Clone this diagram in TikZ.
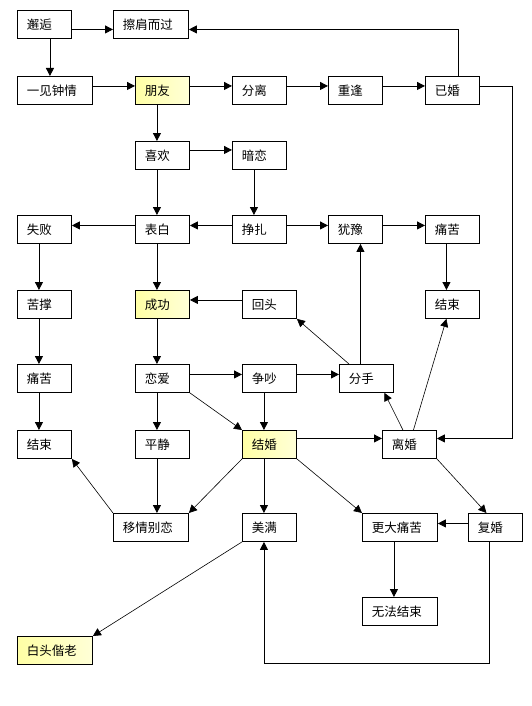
\documentclass[tikz,border=0pt]{standalone}
\usepackage{fontspec}
\setmainfont{Noto Sans CJK SC}
\usetikzlibrary{arrows.meta}
\definecolor{hiyellow}{RGB}{255,255,165}
\definecolor{loyellow}{RGB}{255,255,215}
\tikzset{
  box/.style={draw, line width=0.9pt, fill=white, anchor=north west,
    minimum height=28pt, inner xsep=9.5pt, inner ysep=0pt,
    text width=#1, align=left, font=\fontsize{12.5pt}{14pt}\selectfont},
  box/.default=35pt,
  hi/.style={left color=hiyellow, right color=loyellow},
  arr/.style={-{Triangle[length=8pt,width=8pt]}, line width=0.8pt},
  slant/.style={arr, line width=0.6pt}
}
\begin{document}
\begin{tikzpicture}[x=1pt,y=-1pt]
        \useasboundingbox (0,0) rectangle (532,706);
        % first rows
        \node[box] (xiehou) at (17,10) {邂逅};
        \node[box=56pt] (cajian) at (113,10) {擦肩而过};
        \node[box=56pt] (yijian) at (17,76) {一见钟情};
        \node[box,hi] (pengyou) at (135,76) {朋友};
        \node[box] (fenli) at (232,76) {分离};
        \node[box] (chongfeng) at (328,76) {重逢};
        \node[box] (yihun) at (425,76) {已婚};
        \node[box] (xihuan) at (135,141) {喜欢};
        \node[box] (anlian) at (232,141) {暗恋};
        % middle rows
        \node[box] (shibai) at (17,215) {失败};
        \node[box] (biaobai) at (135,215) {表白};
        \node[box] (zhengzha) at (232,215) {挣扎};
        \node[box] (youyu) at (328,215) {犹豫};
        \node[box] (tongkuR) at (425,215) {痛苦};
        \node[box] (kucheng) at (17,290) {苦撑};
        \node[box,hi] (chenggong) at (135,290) {成功};
        \node[box] (huitou) at (242,290) {回头};
        \node[box] (jieshuR) at (425,290) {结束};
        \node[box] (tongkuL) at (17,364) {痛苦};
        \node[box] (lianai) at (135,364) {恋爱};
        \node[box] (zhengchao) at (242,364) {争吵};
        \node[box] (fenshou) at (339,364) {分手};
        \node[box] (jieshuL) at (17,430) {结束};
        \node[box] (pingjing) at (135,430) {平静};
        \node[box,hi] (jiehun) at (242,430) {结婚};
        \node[box] (lihun) at (382,430) {离婚};
        % last rows
        \node[box=56pt] (yiqing) at (113,513) {移情别恋};
        \node[box] (meiman) at (242,513) {美满};
        \node[box=56pt] (gengda) at (362,513) {更大痛苦};
        \node[box] (fuhun) at (468,513) {复婚};
        \node[box=56pt] (wufa) at (362,597) {无法结束};
        \node[box=56pt,hi] (baitou) at (17,636) {白头偕老};
        % straight connectors, across
        \draw[arr] ([yshift=-5pt]xiehou.east) -- ([yshift=-5pt]xiehou.east -| cajian.west);
        \draw[arr] ([yshift=4.5pt]yijian.east) -- ([yshift=4.5pt]yijian.east -| pengyou.west);
        \draw[arr] ([yshift=4.5pt]pengyou.east) -- ([yshift=4.5pt]pengyou.east -| fenli.west);
        \draw[arr] ([yshift=4.5pt]fenli.east) -- ([yshift=4.5pt]fenli.east -| chongfeng.west);
        \draw[arr] ([yshift=4.5pt]chongfeng.east) -- ([yshift=4.5pt]chongfeng.east -| yihun.west);
        \draw[arr] ([yshift=5.5pt]xihuan.east) -- ([yshift=5.5pt]xihuan.east -| anlian.west);
        \draw[arr] ([yshift=4pt]zhengzha.west) -- ([yshift=4pt]zhengzha.west -| biaobai.east);
        \draw[arr] ([yshift=4pt]biaobai.west) -- ([yshift=4pt]biaobai.west -| shibai.east);
        \draw[arr] ([yshift=4pt]zhengzha.east) -- ([yshift=4pt]zhengzha.east -| youyu.west);
        \draw[arr] ([yshift=4pt]youyu.east) -- ([yshift=4pt]youyu.east -| tongkuR.west);
        \draw[arr] ([yshift=4.5pt]huitou.west) -- ([yshift=4.5pt]huitou.west -| chenggong.east);
        \draw[arr] ([yshift=4pt]lianai.east) -- ([yshift=4pt]lianai.east -| zhengchao.west);
        \draw[arr] ([yshift=4pt]zhengchao.east) -- ([yshift=4pt]zhengchao.east -| fenshou.west);
        \draw[arr] ([yshift=6pt]jiehun.east) -- ([yshift=6pt]jiehun.east -| lihun.west);
        \draw[arr] ([yshift=4pt]fuhun.west) -- ([yshift=4pt]fuhun.west -| gengda.east);
        % straight connectors, down
        \draw[arr] ([xshift=5.5pt]xiehou.south) -- ([xshift=5.5pt]xiehou.south |- yijian.north);
        \draw[arr] ([xshift=-5.5pt]pengyou.south) -- ([xshift=-5.5pt]pengyou.south |- xihuan.north);
        \draw[arr] ([xshift=-5.5pt]xihuan.south) -- ([xshift=-5.5pt]xihuan.south |- biaobai.north);
        \draw[arr] ([xshift=-5.5pt]anlian.south) -- ([xshift=-5.5pt]anlian.south |- zhengzha.north);
        \draw[arr] ([xshift=-5.5pt]shibai.south) -- ([xshift=-5.5pt]shibai.south |- kucheng.north);
        \draw[arr] ([xshift=-5.5pt]kucheng.south) -- ([xshift=-5.5pt]kucheng.south |- tongkuL.north);
        \draw[arr] ([xshift=-5.5pt]tongkuL.south) -- ([xshift=-5.5pt]tongkuL.south |- jieshuL.north);
        \draw[arr] ([xshift=-5.5pt]biaobai.south) -- ([xshift=-5.5pt]biaobai.south |- chenggong.north);
        \draw[arr] ([xshift=-5.5pt]chenggong.south) -- ([xshift=-5.5pt]chenggong.south |- lianai.north);
        \draw[arr] ([xshift=-5.5pt]lianai.south) -- ([xshift=-5.5pt]lianai.south |- pingjing.north);
        \draw[arr] ([xshift=-5.5pt]pingjing.south) -- ([xshift=-5.5pt]pingjing.south |- yiqing.north);
        \draw[arr] ([xshift=-6pt]tongkuR.south) -- ([xshift=-6pt]tongkuR.south |- jieshuR.north);
        \draw[arr] ([xshift=-5.5pt]zhengchao.south) -- ([xshift=-5.5pt]zhengchao.south |- jiehun.north);
        \draw[arr] ([xshift=-5.5pt]jiehun.south) -- ([xshift=-5.5pt]jiehun.south |- meiman.north);
        \draw[arr] ([xshift=-6pt]gengda.south) -- ([xshift=-6pt]gengda.south |- wufa.north);
        \draw[arr] ([xshift=-6pt]fenshou.north) -- ([xshift=-6pt]fenshou.north |- youyu.south);
        % elbows
        \draw[arr] ([xshift=6pt]yihun.north) |- ([yshift=-5pt]cajian.east);
        \draw[arr] ([yshift=4.5pt]yihun.east) -- ++(32,0) |- ([yshift=6pt]lihun.east);
        \draw[arr] ([xshift=-6.5pt]fuhun.south) -- ++(0,121) -| ([xshift=-5.5pt]meiman.south);
        % slanted
        \draw[slant] ([xshift=10pt]fenshou.north west) -- (huitou.south east);
        \draw[slant] (lianai.south east) -- (jiehun.north west);
        \draw[slant] (jiehun.south west) -- (yiqing.north east);
        \draw[slant] (yiqing.north west) -- (jieshuL.south east);
        \draw[slant] (jiehun.south east) -- (gengda.north west);
        \draw[slant] ([xshift=-6.5pt]lihun.north) -- ([xshift=18pt]fenshou.south);
        \draw[slant] ([xshift=4pt]lihun.north) -- ([xshift=-6pt]jieshuR.south);
        \draw[slant] (lihun.south east) -- ([xshift=-9pt]fuhun.north);
        \draw[slant] (meiman.south west) -- (baitou.north east);
\end{tikzpicture}
\end{document}
